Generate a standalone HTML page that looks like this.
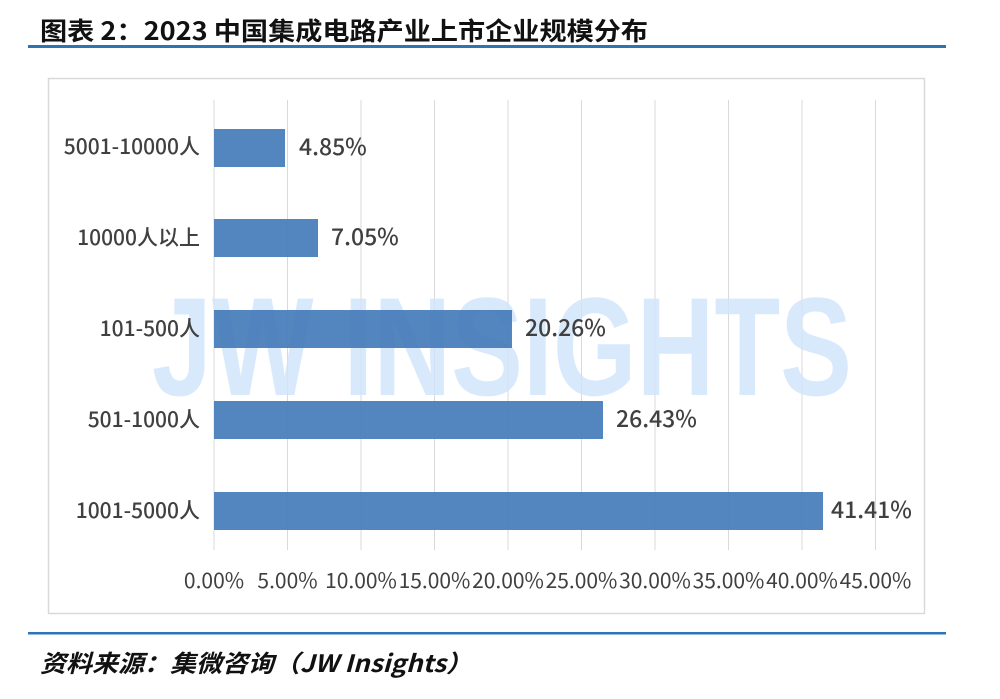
<!DOCTYPE html>
<html><head><meta charset="utf-8"><style>
body{margin:0;background:#fff;width:1000px;height:694px;overflow:hidden}
</style></head><body>
<svg width="1000" height="694" xmlns="http://www.w3.org/2000/svg" font-family="Noto Sans CJK SC, Liberation Sans, sans-serif">
<text x="40" y="40" font-size="25" font-weight="bold" fill="#111" textLength="608" lengthAdjust="spacingAndGlyphs">图表 2：2023 中国集成电路产业上市企业规模分布</text>
<rect x="28" y="45" width="918" height="3" fill="#2e74b5"/>
<rect x="48.5" y="78.5" width="876" height="535" fill="#fff" stroke="#d9d9d9" stroke-width="1.5"/>
<g stroke="#d9d9d9" stroke-width="1">
<line x1="214" y1="100" x2="214" y2="550"/><line x1="287.5" y1="100" x2="287.5" y2="550"/>
<line x1="361" y1="100" x2="361" y2="550"/><line x1="434.5" y1="100" x2="434.5" y2="550"/>
<line x1="508" y1="100" x2="508" y2="550"/><line x1="581.5" y1="100" x2="581.5" y2="550"/>
<line x1="655" y1="100" x2="655" y2="550"/><line x1="728.5" y1="100" x2="728.5" y2="550"/>
<line x1="802" y1="100" x2="802" y2="550"/><line x1="875.5" y1="100" x2="875.5" y2="550"/>
</g>
<text x="502" y="395" font-size="140" font-weight="bold" fill="#cfe3fb" fill-opacity="0.8" text-anchor="middle" textLength="700" lengthAdjust="spacingAndGlyphs" font-family="Liberation Sans, sans-serif">JW INSIGHTS</text>
<g fill="#4a7ebb" fill-opacity="0.95">
<rect x="214" y="129" width="71" height="38"/>
<rect x="214" y="219" width="104" height="38"/>
<rect x="214" y="310" width="298" height="38"/>
<rect x="214" y="401" width="389" height="38"/>
<rect x="214" y="492" width="609" height="38"/>
</g>
<g font-size="23" fill="#404040" font-weight="500">
<text x="299" y="155">4.85%</text>
<text x="331" y="245">7.05%</text>
<text x="525" y="336">20.26%</text>
<text x="616" y="427">26.43%</text>
<text x="831" y="518">41.41%</text>
</g>
<g font-size="21" fill="#404040" text-anchor="end" font-weight="500">
<text x="200" y="154">5001-10000人</text>
<text x="200" y="245">10000人以上</text>
<text x="200" y="336">101-500人</text>
<text x="200" y="427">501-1000人</text>
<text x="200" y="518">1001-5000人</text>
</g>
<g font-size="21" fill="#404040" text-anchor="middle">
<text x="214" y="588">0.00%</text><text x="287.5" y="588">5.00%</text>
<text x="361" y="588">10.00%</text><text x="434.5" y="588">15.00%</text>
<text x="508" y="588">20.00%</text><text x="581.5" y="588">25.00%</text>
<text x="655" y="588">30.00%</text><text x="728.5" y="588">35.00%</text>
<text x="802" y="588">40.00%</text><text x="875.5" y="588">45.00%</text>
</g>
<rect x="28" y="632" width="918" height="2.5" fill="#2e74b5"/>
<text x="40" y="672" font-size="24" font-weight="bold" font-style="italic" fill="#111" textLength="432" lengthAdjust="spacingAndGlyphs">资料来源：集微咨询（JW Insights）</text>
</svg>
</body></html>
